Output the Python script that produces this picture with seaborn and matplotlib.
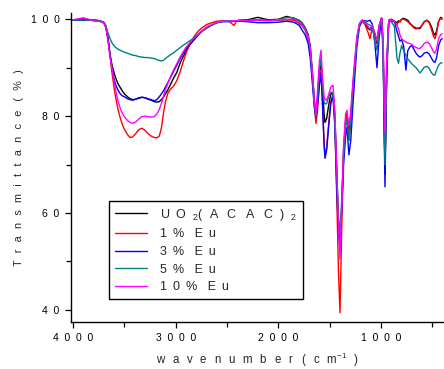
import matplotlib
matplotlib.use("Agg")
import matplotlib.pyplot as plt
import pandas as pd
import seaborn as sns
from matplotlib.ticker import FixedFormatter, FixedLocator

# wavenumber grids (cm-1), OH band side and fingerprint side
WN_HIGH = [4000, 3900, 3800, 3740, 3700, 3680, 3660, 3640, 3620, 3600,
           3580, 3560, 3540, 3520, 3500, 3470, 3445, 3420, 3390, 3360,
           3330, 3300, 3270, 3240, 3210, 3185, 3160, 3140, 3120, 3100,
           3075, 3050, 3020, 2990, 2960, 2930, 2900, 2860, 2820, 2780,
           2740, 2700, 2650, 2600, 2540, 2480, 2432, 2410, 2380, 2300,
           2200, 2100, 2000, 1920, 1850]
WN_LOW = [1800, 1770, 1740, 1710, 1690, 1670, 1650, 1634, 1620, 1600,
          1585, 1570, 1555, 1546, 1530, 1510, 1490, 1468, 1450, 1430,
          1415, 1400, 1385, 1365, 1345, 1332, 1313, 1295, 1275, 1255,
          1235, 1210, 1186, 1160, 1130, 1108, 1085, 1060, 1040, 1020,
          995, 980, 962, 945, 925, 900, 870, 845, 830, 816,
          800, 780, 758, 740, 720, 700, 680, 660, 640, 620,
          600, 580, 553, 530, 510, 490, 475, 460, 440, 420, 405]

UO2_HIGH = [99.9, 99.8, 99.9, 99.7, 99.4, 98.6, 96.3, 92.8, 90.5, 88.9,
            87.6, 86.6, 85.9, 85.2, 84.6, 84.0, 83.6, 83.4, 83.5, 83.7,
            83.9, 83.8, 83.5, 83.3, 83.0, 82.9, 83.0, 83.4, 83.9, 84.6,
            85.5, 86.6, 87.9, 89.0, 90.8, 92.2, 93.4, 94.8, 95.8, 96.8,
            97.6, 98.2, 98.8, 99.3, 99.6, 99.7, 99.7, 99.7, 99.8, 99.9,
            100.4, 99.9, 100.0, 100.6, 100.2]
UO2_LOW = [99.8, 99.3, 98.3, 96.8, 94.5, 89.5, 83.5, 79.5, 83.0, 89.0,
           91.2, 86.0, 80.5, 78.7, 79.5, 82.3, 84.5, 84.8, 80.0, 68.0,
           58.0, 52.0, 60.0, 73.0, 79.0, 80.5, 76.5, 80.0, 86.0, 91.0,
           96.0, 99.0, 99.8, 99.5, 98.2, 97.8, 98.5, 97.0, 95.0, 98.5,
           100.3, 95.0, 68.0, 90.0, 99.8, 100.0, 99.6, 99.3, 99.7, 99.5,
           100.0, 100.2, 100.0, 99.8, 99.2, 98.8, 98.4, 98.2, 98.1, 98.1,
           98.8, 99.5, 99.8, 99.4, 98.5, 97.2, 96.7, 97.5, 99.5, 100.4, 100.2]

EU1_HIGH = [99.8, 100.2, 99.7, 99.6, 99.2, 98.3, 96.0, 92.5, 88.8, 85.8,
            83.3, 81.2, 79.6, 78.3, 77.3, 76.2, 75.6, 75.7, 76.4, 77.2,
            77.5, 77.1, 76.4, 75.9, 75.6, 75.5, 75.9, 77.5, 80.5, 83.0,
            84.8, 85.6, 86.2, 87.3, 89.0, 91.0, 93.0, 95.0, 96.5, 97.6,
            98.3, 98.9, 99.3, 99.6, 99.7, 99.6, 98.7, 99.6, 99.7, 99.7,
            99.8, 99.7, 99.8, 99.9, 99.8]
EU1_LOW = [99.2, 98.6, 97.8, 96.0, 93.5, 88.5, 82.0, 78.5, 81.0, 87.0,
           89.5, 83.0, 74.5, 72.0, 73.5, 78.5, 83.0, 84.5, 78.0, 62.0,
           48.0, 39.4, 55.0, 72.0, 79.0, 80.2, 75.0, 79.0, 85.5, 90.5,
           95.8, 99.0, 99.7, 99.0, 97.5, 96.0, 98.3, 97.0, 95.3, 98.5,
           100.2, 95.0, 69.0, 90.0, 99.8, 100.0, 99.5, 98.8, 99.6, 99.4,
           100.0, 100.0, 99.8, 99.5, 99.1, 98.7, 98.2, 98.0, 98.2, 98.3,
           98.8, 99.4, 99.8, 99.2, 98.0, 96.5, 96.0, 97.0, 99.6, 100.2, 100.0]

EU3_HIGH = [99.8, 99.9, 99.8, 99.6, 99.3, 98.4, 96.0, 92.6, 89.8, 87.6,
            86.2, 85.3, 84.6, 84.2, 84.0, 83.6, 83.4, 83.3, 83.5, 83.8,
            83.9, 83.8, 83.6, 83.4, 83.2, 83.4, 84.0, 84.6, 85.2, 86.0,
            87.0, 88.0, 89.3, 90.5, 91.8, 92.9, 93.9, 95.0, 96.0, 96.9,
            97.6, 98.2, 98.8, 99.3, 99.5, 99.5, 99.6, 99.6, 99.6, 99.5,
            99.3, 99.3, 99.4, 99.6, 99.4]
EU3_LOW = [98.8, 97.8, 96.8, 95.0, 92.0, 87.0, 82.0, 79.8, 82.0, 86.5,
           88.9, 82.0, 74.0, 71.3, 73.0, 78.0, 82.5, 84.2, 78.0, 64.0,
           56.0, 54.0, 60.0, 70.0, 76.0, 77.7, 72.0, 75.0, 82.0, 88.5,
           94.5, 98.5, 99.5, 99.7, 99.6, 99.8, 99.0, 95.0, 90.0, 96.0,
           100.0, 93.0, 65.4, 88.0, 99.5, 99.6, 99.5, 97.5, 96.5, 95.5,
           95.8, 94.5, 89.5, 93.5, 94.3, 94.6, 93.8, 93.0, 92.5, 92.2,
           92.5, 93.0, 93.2, 92.8, 92.0, 91.3, 91.1, 92.0, 94.5, 95.7, 96.0]

EU5_HIGH = [99.9, 99.8, 99.9, 99.7, 99.4, 98.7, 97.2, 96.0, 95.1, 94.5,
            94.1, 93.8, 93.6, 93.4, 93.2, 93.0, 92.8, 92.6, 92.5, 92.3,
            92.2, 92.1, 92.1, 92.0, 91.9, 91.7, 91.5, 91.4, 91.5, 91.9,
            92.3, 92.7, 93.1, 93.6, 94.1, 94.6, 95.0, 95.6, 96.2, 96.9,
            97.6, 98.2, 98.8, 99.3, 99.6, 99.7, 99.7, 99.7, 99.8, 99.8,
            99.9, 99.8, 99.9, 100.4, 100.3]
EU5_LOW = [99.8, 99.2, 98.3, 96.5, 94.0, 89.0, 83.0, 80.0, 83.5, 90.0,
           92.0, 86.0, 83.0, 82.5, 82.6, 84.0, 85.0, 84.8, 79.5, 67.0,
           59.0, 56.0, 62.0, 72.0, 78.0, 79.2, 75.0, 79.0, 85.5, 90.5,
           95.5, 98.8, 99.8, 99.6, 99.0, 98.8, 98.4, 95.5, 93.6, 97.5,
           100.2, 94.0, 70.0, 89.0, 99.7, 99.5, 98.5, 92.0, 90.9, 93.0,
           94.6, 93.5, 92.6, 91.8, 91.3, 90.8, 90.4, 90.0, 89.5, 88.9,
           89.5, 90.1, 90.3, 89.8, 89.0, 88.5, 88.5, 89.5, 90.5, 91.0, 91.0]

EU10_HIGH = [99.9, 100.3, 99.7, 99.6, 99.3, 98.2, 95.6, 92.4, 89.8, 87.0,
             84.8, 83.0, 81.6, 80.6, 79.9, 79.1, 78.7, 78.5, 78.8, 79.4,
             79.9, 80.0, 79.9, 79.8, 79.9, 80.4, 81.4, 82.6, 84.0, 85.5,
             86.8, 88.2, 89.6, 90.8, 92.1, 93.2, 94.2, 95.2, 96.2, 97.0,
             97.7, 98.4, 98.9, 99.4, 99.6, 99.6, 99.7, 99.7, 99.7, 99.7,
             99.8, 99.7, 99.9, 100.0, 100.0]
EU10_LOW = [99.5, 98.8, 97.8, 96.3, 94.0, 89.0, 83.0, 80.3, 85.0, 91.5,
            93.6, 88.0, 84.0, 83.5, 83.3, 84.5, 86.0, 86.4, 81.0, 68.0,
            57.0, 50.5, 60.0, 74.0, 80.5, 81.2, 78.0, 81.0, 87.0, 92.0,
            96.5, 99.2, 99.8, 99.5, 98.6, 98.0, 98.8, 97.0, 95.7, 98.7,
            100.3, 96.0, 76.5, 92.0, 99.8, 99.8, 99.5, 98.8, 98.0, 96.8,
            96.0, 95.6, 95.3, 95.1, 95.0, 94.8, 94.4, 94.2, 94.0, 94.0,
            94.4, 95.0, 95.3, 95.0, 94.2, 93.3, 93.0, 93.8, 96.0, 96.8, 97.0]

SAMPLES = ["UO2(ACAC)2", "1% Eu", "3% Eu", "5% Eu", "10% Eu"]
COLORS = ["#000000", "#FF0000", "#0000FF", "#008080", "#FF00FF"]

SEP = " \u2009"
WIDE = "  "
WIDER = "  \u2009"
LABEL_SEP = " \u2009\u2009"


def spaced(text, sep=SEP):
    """Imita o espacamento largo entre letras do grafico original."""
    return sep.join(text)


series = {
    "UO2(ACAC)2": UO2_HIGH + UO2_LOW,
    "1% Eu": EU1_HIGH + EU1_LOW,
    "3% Eu": EU3_HIGH + EU3_LOW,
    "5% Eu": EU5_HIGH + EU5_LOW,
    "10% Eu": EU10_HIGH + EU10_LOW,
}
wn = WN_HIGH + WN_LOW
df = pd.concat(
    [pd.DataFrame({"wavenumber": wn, "T": vals, "sample": name}) for name, vals in series.items()],
    ignore_index=True,
)

sns.set_theme(style="ticks")
plt.rcParams["font.family"] = ["Liberation Sans", "DejaVu Sans"]
plt.rcParams["mathtext.default"] = "regular"

fig = plt.figure(figsize=(4.44, 3.69), dpi=100)
ax = fig.add_axes([71 / 444, 47 / 369, 373 / 444, 309 / 369])

sns.lineplot(data=df, x="wavenumber", y="T", hue="sample", hue_order=SAMPLES,
             palette=dict(zip(SAMPLES, COLORS)), estimator=None, sort=True,
             linewidth=1.0, ax=ax)

ax.set_xlim(4020, 387)
ax.set_ylim(37.5, 101.3)
ax.xaxis.set_major_locator(FixedLocator([4000, 3000, 2000, 1000]))
ax.xaxis.set_major_formatter(FixedFormatter([spaced(s, WIDE) for s in ["4000", "3000", "2000", "1000"]]))
ax.xaxis.set_minor_locator(FixedLocator([3500, 2500, 1500, 500]))
ax.yaxis.set_major_locator(FixedLocator([40, 60, 80, 100]))
ax.yaxis.set_major_formatter(FixedFormatter([spaced(s, WIDE) for s in ["40", "60", "80", "100"]]))
ax.yaxis.set_minor_locator(FixedLocator([50, 70, 90]))
ax.tick_params(which="both", direction="out", width=0.9, colors="black", labelsize=7.5)
ax.tick_params(axis="x", which="major", length=4.3, pad=3.5)
ax.tick_params(axis="y", which="major", length=4.3, pad=4)
ax.tick_params(which="minor", length=3.5)
for side in ["top", "right"]:
    ax.spines[side].set_visible(False)
for side in ["left", "bottom"]:
    ax.spines[side].set_linewidth(1.0)
    ax.spines[side].set_color("black")

ax.set_ylabel(spaced("Transmittance", LABEL_SEP) + "   " + spaced("(%)", LABEL_SEP), fontsize=7.8, labelpad=5)
ax.set_xlabel(spaced("wavenumber", LABEL_SEP) + "   " + spaced("(cm", LABEL_SEP) + "$^{-1}$" + LABEL_SEP + ")",
              fontsize=8.3, labelpad=6)

labels = [
    spaced("UO", WIDE) + WIDE + "$_2$" + "(" + WIDE + spaced("ACAC", WIDER) + WIDE + ")" + WIDE + "$_2$",
    spaced("1%") + "   " + spaced("Eu"),
    spaced("3%") + "   " + spaced("Eu"),
    spaced("5%") + "   " + spaced("Eu"),
    spaced("10%") + "   " + spaced("Eu"),
]
handles, _ = ax.get_legend_handles_labels()
leg = ax.legend(handles, labels, loc="lower left", bbox_to_anchor=(0.102, 0.074),
                borderaxespad=0, fontsize=9, frameon=True, fancybox=False,
                edgecolor="black", framealpha=1, handlelength=2.6, handletextpad=1.0,
                labelspacing=0.45, borderpad=0.47)
leg.get_frame().set_linewidth(1.0)

fig.savefig("out.png", dpi=100)
